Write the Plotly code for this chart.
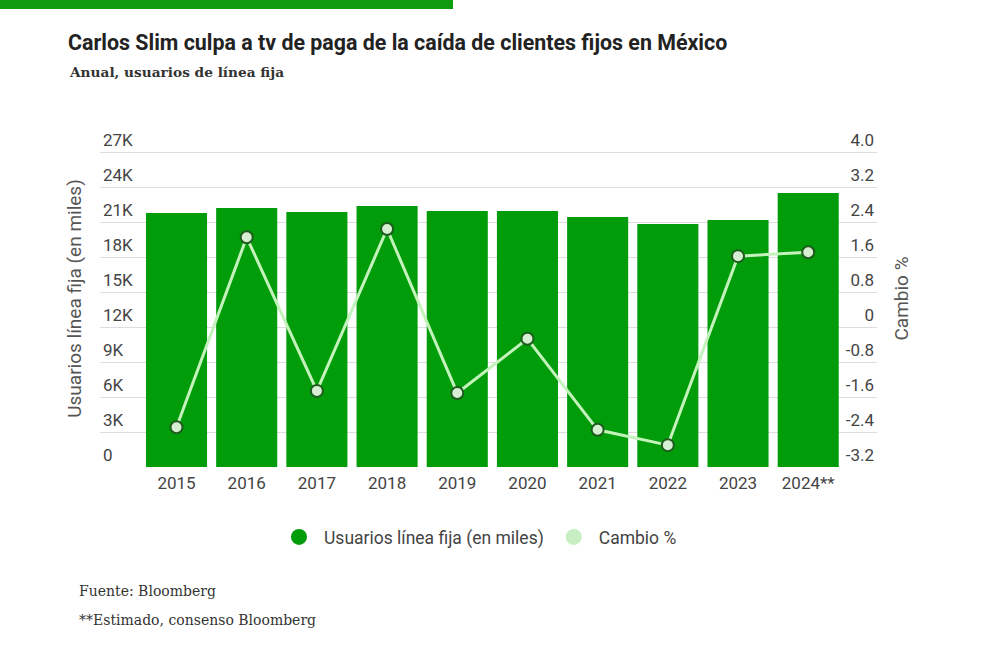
import plotly.graph_objects as go

years = ["2015", "2016", "2017", "2018", "2019", "2020", "2021", "2022", "2023", "2024**"]
usuarios = [21770, 22200, 21860, 22370, 21950, 21950, 21430, 20830, 21170, 23490]
cambio = [-2.29, 2.05, -1.46, 2.24, -1.51, -0.27, -2.35, -2.70, 1.62, 1.71]

left_ticks = [0, 3000, 6000, 9000, 12000, 15000, 18000, 21000, 24000, 27000]
left_labels = ["0", "3K", "6K", "9K", "12K", "15K", "18K", "21K", "24K", "27K"]
right_ticks = [-3.2, -2.4, -1.6, -0.8, 0, 0.8, 1.6, 2.4, 3.2, 4.0]
right_labels = ["-3.2", "-2.4", "-1.6", "-0.8", "0", "0.8", "1.6", "2.4", "3.2", "4.0"]

BAR = "#009c0a"
LINE = "#c3f2bb"
TXT = "#444444"
FONT = "Roboto"
SERIF = "DejaVu Serif"

# pixel geometry of the plot area
PL, PR, PT, PB = 100, 877, 130, 467
PW, PH = PR - PL, PB - PT


def px(x):
    return (x - PL) / PW


def py(y):
    return (PB - y) / PH


fig = go.Figure()
fig.add_trace(go.Bar(
    x=years, y=usuarios, marker=dict(color=BAR, line=dict(width=0)),
    name="Usuarios línea fija (en miles)", showlegend=False, yaxis="y",
))
fig.add_trace(go.Scatter(
    x=years, y=cambio, mode="lines+markers", yaxis="y2",
    line=dict(color=LINE, width=3),
    marker=dict(size=12, color="#d6eed2", line=dict(color="#1d5c1d", width=2)),
    name="Cambio %", showlegend=False,
))
# legend entries (circle swatches)
fig.add_trace(go.Scatter(x=[None], y=[None], mode="markers", name="Usuarios línea fija (en miles)",
                         marker=dict(size=20, color=BAR, symbol="circle")))
fig.add_trace(go.Scatter(x=[None], y=[None], mode="markers", name="Cambio %",
                         marker=dict(size=20, color="#c6eec2", symbol="circle")))

fig.update_layout(
    width=1000, height=659,
    margin=dict(l=PL, r=1000 - PR, t=PT, b=659 - PB, autoexpand=False),
    paper_bgcolor="white", plot_bgcolor="white",
    font=dict(family=FONT, size=17, color=TXT),
    bargap=0.13,
    showlegend=True,
    legend=dict(orientation="h", x=px(478), xanchor="center", y=py(537), yanchor="middle",
                font=dict(family=FONT, size=17.5, color=TXT), itemsizing="trace", itemwidth=40),
    title=dict(text="<b>Carlos Slim culpa a tv de paga de la caída de clientes fijos en México</b>",
               xref="container", x=0.068, xanchor="left", yref="container", y=1 - 43 / 659, yanchor="middle",
               font=dict(family=FONT, size=21.4, color="#222222")),
    xaxis=dict(type="category", range=[-1.09, 9.98], showgrid=False, showline=False, zeroline=False,
               ticks="", ticklabelstandoff=4, tickfont=dict(family=FONT, size=17, color=TXT)),
    yaxis=dict(range=[0, 27000 + 22 * 3000 / 35], tickvals=left_ticks, ticktext=left_labels,
               showgrid=True, gridcolor="#dddddd", gridwidth=1, zeroline=False, showline=False,
               ticks="", ticklabelposition="inside top",
               tickfont=dict(family=FONT, size=17, color=TXT),
               title=dict(text="Usuarios línea fija (en miles)", standoff=16,
                          font=dict(family=FONT, size=19, color="#555555"))),
    yaxis2=dict(range=[-3.2, 4.0 + 22 * 0.8 / 35], tickvals=right_ticks, ticktext=right_labels,
                overlaying="y", side="right", showgrid=False, zeroline=False, showline=False,
                ticks="", ticklabelposition="inside top",
                tickfont=dict(family=FONT, size=17, color=TXT),
                title=dict(text="Cambio %", standoff=21,
                           font=dict(family=FONT, size=19, color="#555555"))),
    shapes=[dict(type="rect", xref="paper", yref="paper",
                 x0=px(0) - 0.01, x1=px(453), y0=py(9), y1=py(0) + 0.01,
                 fillcolor="#0f9d0f", line=dict(width=0), layer="above")],
    annotations=[
        dict(text="<b>Anual, usuarios de línea fija</b>", xref="paper", yref="paper",
             x=px(67), y=py(72), xanchor="left", yanchor="middle", showarrow=False,
             font=dict(family=SERIF, size=13.7, color="#333333")),
        dict(text="Fuente: Bloomberg", xref="paper", yref="paper",
             x=px(77), y=py(591), xanchor="left", yanchor="middle", showarrow=False,
             font=dict(family=SERIF, size=14, color="#333333")),
        dict(text="**Estimado, consenso Bloomberg", xref="paper", yref="paper",
             x=px(77), y=py(620), xanchor="left", yanchor="middle", showarrow=False,
             font=dict(family=SERIF, size=14, color="#333333")),
    ],
)

fig.write_html("out.html", config={"displayModeBar": False},
               post_script="document.body.style.margin='0px';")
